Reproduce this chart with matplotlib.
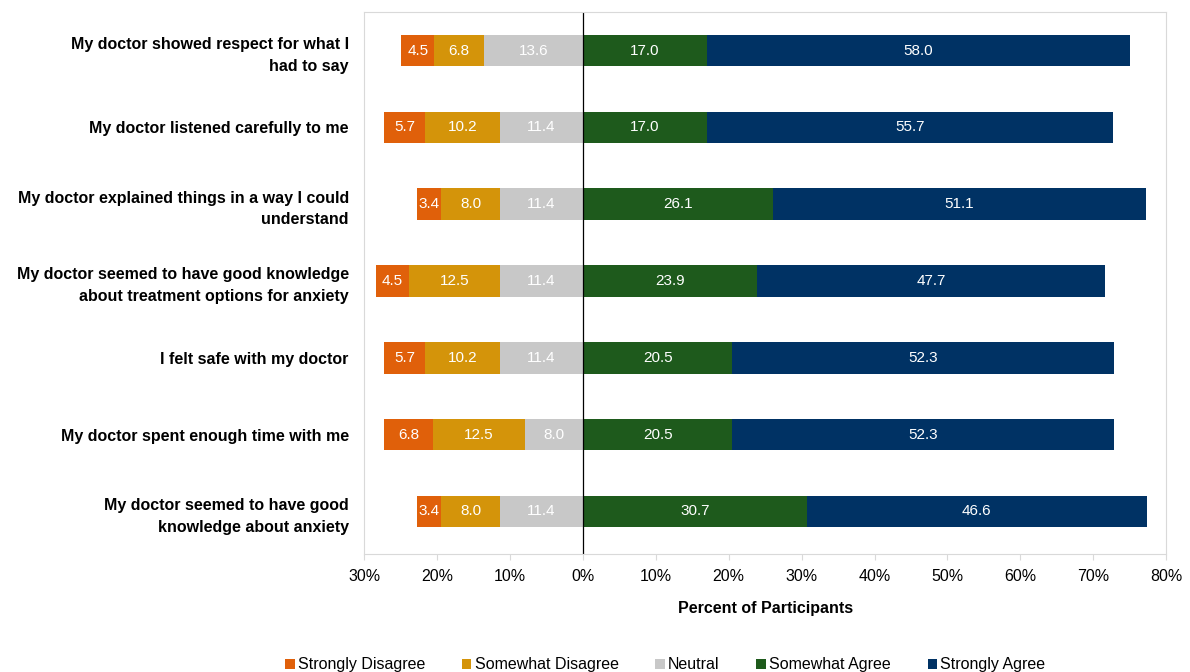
import numpy as np
import matplotlib
matplotlib.use('Agg')
import matplotlib.pyplot as plt
from matplotlib.ticker import FuncFormatter

plt.rcParams['font.family'] = ['Liberation Sans', 'DejaVu Sans']

# ── survey data (percent of participants) ──
ITEMS = [
    'My doctor showed respect for what I\nhad to say',
    'My doctor listened carefully to me',
    'My doctor explained things in a way I could\nunderstand',
    'My doctor seemed to have good knowledge\nabout treatment options for anxiety',
    'I felt safe with my doctor',
    'My doctor spent enough time with me',
    'My doctor seemed to have good\nknowledge about anxiety',
]
strongly_disagree = [4.5, 5.7, 3.4, 4.5, 5.7, 6.8, 3.4]
somewhat_disagree = [6.8, 10.2, 8.0, 12.5, 10.2, 12.5, 8.0]
neutral = [13.6, 11.4, 11.4, 11.4, 11.4, 8.0, 11.4]
somewhat_agree = [17.0, 17.0, 26.1, 23.9, 20.5, 20.5, 30.7]
strongly_agree = [58.0, 55.7, 51.1, 47.7, 52.3, 52.3, 46.6]

XTICKS = [-30, -20, -10, 0, 10, 20, 30, 40, 50, 60, 70, 80]

C_SD = '#E0600A'
C_SWD = '#D4940A'
C_N = '#C8C8C8'
C_SWA = '#1E5A1C'
C_SA = '#003264'

fig = plt.figure(figsize=(11.9, 6.72), dpi=100)
ax = fig.add_axes([0.306, 0.176, 0.674, 0.806])

y = np.arange(len(ITEMS))
h = 0.41

sd = np.array(strongly_disagree)
swd = np.array(somewhat_disagree)
neu = np.array(neutral)
swa = np.array(somewhat_agree)
sa = np.array(strongly_agree)

# negative side stacks outward from zero: neutral, somewhat, strongly
b_n = ax.barh(y, -neu, height=h, color=C_N, label='Neutral')
b_swd = ax.barh(y, -swd, left=-neu, height=h, color=C_SWD, label='Somewhat Disagree')
b_sd = ax.barh(y, -sd, left=-neu - swd, height=h, color=C_SD, label='Strongly Disagree')
b_swa = ax.barh(y, swa, height=h, color=C_SWA, label='Somewhat Agree')
b_sa = ax.barh(y, sa, left=swa, height=h, color=C_SA, label='Strongly Agree')

for bars, vals in [(b_n, neu), (b_swd, swd), (b_sd, sd), (b_swa, swa), (b_sa, sa)]:
    labels = [f'{v:.1f}' for v in vals]
    ax.bar_label(bars, labels=labels, label_type='center', color='white', fontsize=11)

ax.axvline(0, color='black', lw=0.9)

ax.set_xlim(-30, 80)
ax.set_ylim(6.55, -0.5)
ax.set_xticks(XTICKS)
ax.xaxis.set_major_formatter(FuncFormatter(lambda v, p: f'{abs(v):.0f}%'))
ax.tick_params(axis='x', labelsize=11.5, length=4, color='#D9D9D9', pad=7)
ax.set_yticks(y)
ax.set_yticklabels(ITEMS, fontsize=11.5, fontweight='bold', linespacing=1.55)
ax.tick_params(axis='y', length=0, pad=11)
for sp in ax.spines.values():
    sp.set_color('#D9D9D9')

ax.set_xlabel('Percent of Participants', fontsize=11.5, fontweight='bold', labelpad=12)

handles = [b_sd, b_swd, b_n, b_swa, b_sa]
fig.legend(handles, [b.get_label() for b in handles], loc='lower center',
           bbox_to_anchor=(0.559, -0.022), ncol=5, frameon=False, fontsize=11.5,
           handlelength=0.6, handleheight=0.6, handletextpad=0.2, columnspacing=2.3)

fig.savefig('out.png', dpi=100)
